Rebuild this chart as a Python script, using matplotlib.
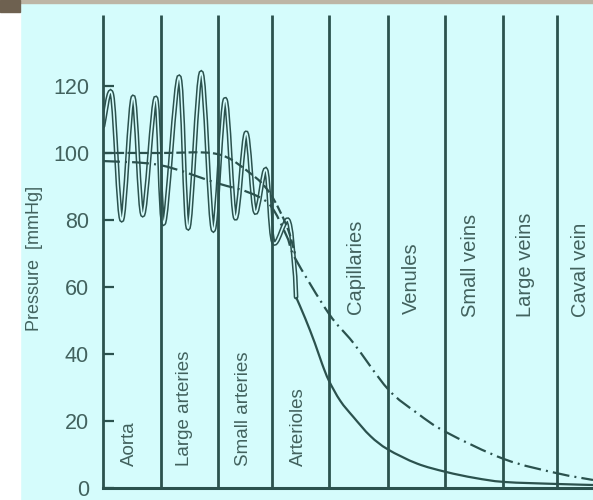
import numpy as np
import matplotlib
matplotlib.use('Agg')
import matplotlib.pyplot as plt
from matplotlib import font_manager
from matplotlib.path import Path
from matplotlib.patches import PathPatch, Rectangle

# segment boundaries along the vascular bed (x in segment units)
boundaries = [0, 1.02, 2.03, 2.98, 3.98, 5.02, 6.03, 7.05, 7.99]

regions = ['Aorta', 'Large arteries', 'Small arteries', 'Arterioles',
           'Capillaries', 'Venules', 'Small veins', 'Large veins', 'Caval vein']

# pulsatile pressure (peaks / troughs), mmHg
pulse_x = [0.0, 0.16, 0.33, 0.53, 0.70, 0.93, 1.07, 1.34, 1.50, 1.73, 1.94,
           2.15, 2.33, 2.52, 2.68, 2.87, 3.00, 3.26, 3.37, 3.40]
pulse_y = [108, 117.3, 80, 116.7, 81.5, 116.4, 79, 122.7, 77.6, 124, 77,
           116, 80.6, 106, 82.4, 95, 73.4, 80, 66, 57]

# solid curve falling after the arterioles
fall_x = [3.40, 3.56, 3.73, 3.86, 3.98, 4.18, 4.41, 4.71, 5.02, 5.53, 6.04,
          6.55, 7.07, 8.0, 8.63]
fall_y = [57, 50.7, 43.3, 37, 32, 26, 21.2, 15.5, 11.5, 7.3, 4.8,
          3.0, 1.8, 1.2, 0.9]

# dashed line starting at 100 mmHg
dash_x = [0, 1.0, 2.01, 2.59, 2.94, 3.24, 3.38]
dash_y = [100, 100, 99.7, 94, 88, 78, 70]

# dash-dot mean pressure
mean_x = [0, 1.0, 2.01, 2.54, 2.94, 3.24, 3.38, 3.98, 4.41, 5.02, 5.53,
          6.04, 7.07, 8.0, 8.63]
mean_y = [97.6, 96.4, 91, 88.4, 84.5, 75, 68.7, 52, 43.3, 29.5, 22.4,
          16.7, 8.6, 4.4, 2.4]

yticks = [0, 20, 40, 60, 80, 100, 120]

bg = '#d5fcfc'
ink = '#2b524e'
txt = '#42625e'

names = {f.name for f in font_manager.fontManager.ttflist}
if 'Liberation Sans Narrow' in names:
    tick_font, tick_size = 'Liberation Sans Narrow', 17
else:
    tick_font, tick_size = 'Liberation Sans', 15.5


def smooth_path(xs, ys):
    pts = np.column_stack([xs, ys]).astype(float)
    n = len(pts)
    verts = [pts[0]]
    codes = [Path.MOVETO]
    for i in range(n - 1):
        p0 = pts[i - 1] if i > 0 else pts[i]
        p1 = pts[i]
        p2 = pts[i + 1]
        p3 = pts[i + 2] if i + 2 < n else pts[i + 1]
        verts += [p1 + (p2 - p0) / 6, p2 - (p3 - p1) / 6, p2]
        codes += [Path.CURVE4] * 3
    return Path(verts, codes)


fig = plt.figure(figsize=(5.93, 5.0), dpi=100, facecolor=bg)
# scan borders
fig.patches.append(Rectangle((0, 0), 20 / 593, 1, transform=fig.transFigure,
                             color='white', zorder=0))
fig.patches.append(Rectangle((0, 497 / 500), 1, 3 / 500, transform=fig.transFigure,
                             color='#bdb5a5', zorder=0))
fig.patches.append(Rectangle((0, 488 / 500), 20 / 593, 12 / 500,
                             transform=fig.transFigure, color='#6e6150', zorder=0))

ax = fig.add_axes([103 / 593, 12 / 500, 1 - 103 / 593, 473 / 500])
ax.set_facecolor('none')
ax.set_xlim(0, 8.63)
ax.set_ylim(0, 141.2)

ax.vlines(boundaries, 0, 141.2, color=ink, lw=2.0, clip_on=False)

# pulse drawn as a hollow double stroke
pulse = smooth_path(pulse_x, pulse_y)
ax.add_patch(PathPatch(pulse, fill=False, ec=ink, lw=3.4, capstyle='round'))
ax.add_patch(PathPatch(pulse, fill=False, ec=bg, lw=1.2, capstyle='round'))

ax.add_patch(PathPatch(smooth_path(fall_x, fall_y), fill=False, ec=ink, lw=1.6))
ax.add_patch(PathPatch(smooth_path(dash_x, dash_y), fill=False, ec=ink, lw=1.6,
                       linestyle=(0, (4, 1.5))))
ax.add_patch(PathPatch(smooth_path(mean_x, mean_y), fill=False, ec=ink, lw=1.6,
                       linestyle=(0, (7.6, 2.3, 0.9, 2.3))))

# region labels
label_x = [0.46, 1.44, 2.48, 3.44, 4.44, 5.43, 6.48, 7.44, 8.41]
label_y = [6.6, 6.6, 6.6, 6.6, 52, 52, 51, 51, 51]
label_size = [13.5, 13.5, 13.5, 13.5, 14.5, 14.5, 14.5, 14.5, 14.5]
for name, lx, ly, fs in zip(regions, label_x, label_y, label_size):
    ax.text(lx, ly, name, rotation=90, ha='center', va='bottom',
            fontsize=fs, family='Liberation Sans', color=txt)

for side in ['left', 'right', 'top']:
    ax.spines[side].set_visible(False)
ax.spines['bottom'].set_color(ink)
ax.spines['bottom'].set_linewidth(2.2)

ax.set_xticks([])
ax.set_yticks(yticks)
ax.set_yticklabels([str(v) for v in yticks], family=tick_font)
ax.tick_params(axis='y', direction='in', length=8, width=1.6, color=ink,
               pad=10, labelsize=tick_size, labelcolor=txt)

fig.text(35 / 593, 1 - 258 / 500, 'Pressure  [mmHg]', rotation=90,
         ha='center', va='center', fontsize=13, family='Liberation Sans',
         color=txt)

fig.savefig('out.png', dpi=100, facecolor=fig.get_facecolor())
